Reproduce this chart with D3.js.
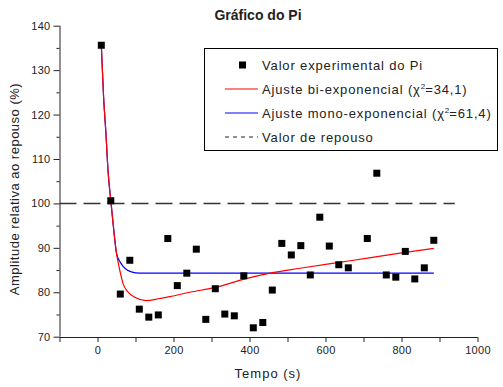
<!DOCTYPE html>
<html>
<head>
<meta charset="utf-8">
<script src="https://cdn.jsdelivr.net/npm/d3@7"></script>
<style>
  body { margin: 0; background: #fff; }
  svg { display: block; font-family: "Liberation Sans", Arial, sans-serif; }
  .axis path, .axis line { stroke: #222; }
  .axis text { fill: #222; font-size: 11px; letter-spacing: 0.3px; }
</style>
</head>
<body>
<svg id="chart" width="503" height="387"></svg>
<script>
// measured points (tempo s, amplitude %)
const pointTimes = [10, 35, 60, 85, 110, 135, 160, 185, 210, 235, 260, 285, 310, 335, 360, 385, 410, 435,
  460, 485, 510, 535, 560, 585, 610, 635, 660, 710, 735, 760, 785, 810, 835, 860, 885];
const pointValues = [135.6, 100.6, 79.6, 87.2, 76.2, 74.4, 74.9, 92.1, 81.5, 84.3, 89.7, 73.9, 80.8, 75.1, 74.7, 83.7, 72.0, 73.2,
  80.5, 91.0, 88.4, 90.5, 83.9, 96.9, 90.4, 86.2, 85.5, 92.1, 106.8, 83.9, 83.4, 89.2, 83.0, 85.5, 91.7];

// bi-exponential fit
const biTimes = [10, 16, 22, 28, 35, 41, 50, 54, 60, 67, 80, 98, 129, 164, 190, 243, 311, 388, 454, 533, 665, 796, 885];
const biValues = [135.6, 124, 116, 107, 100.6, 95.5, 88.8, 86.9, 84.4, 82.0, 80.1, 78.9, 78.1, 78.6, 79.0, 80.0, 81.1, 83.0, 84.3, 85.4, 87.1, 88.8, 89.9];

// mono-exponential fit
const monoTimes = [10, 16, 22, 28, 35, 41, 50, 59, 72, 89, 111, 150, 885];
const monoValues = [135.6, 124, 116, 107, 100.6, 95.5, 88.8, 86.9, 85.4, 84.6, 84.3, 84.3, 84.3];

const restValue = 100;
const restRange = [-100, 940];

const xTicks = [0, 200, 400, 600, 800, 1000];
const yTicks = [70, 80, 90, 100, 110, 120, 130, 140];

const svg = d3.select("#chart");

const x = d3.scaleLinear().domain([-100, 1000]).range([59.5, 477.5]);
const y = d3.scaleLinear().domain([70, 140]).range([336.7, 25.7]);

// title
svg.append("text")
  .attr("x", 258).attr("y", 20)
  .attr("text-anchor", "middle")
  .style("font-weight", "bold").style("font-size", "14px").style("fill", "#222")
  .text("Gráfico do Pi");

// axes (major + minor ticks)
const xAxis = svg.append("g").attr("class", "axis").attr("transform", "translate(0,337)");
xAxis.call(d3.axisBottom(x).tickValues(d3.range(-100, 1001, 100)).tickSize(5).tickPadding(4)
  .tickFormat(d => xTicks.includes(d) ? d : ""));
xAxis.select(".domain").attr("d", `M${x(-100)},0.5H${x(1000)}`);

const yAxis = svg.append("g").attr("class", "axis").attr("transform", "translate(59.5,0)");
yAxis.call(d3.axisLeft(y).tickValues(d3.range(70, 141, 5)).tickSize(6).tickPadding(3)
  .tickFormat(d => yTicks.includes(d) ? d : ""));
yAxis.selectAll(".tick").filter(d => !yTicks.includes(d)).select("line").attr("x2", -3);
yAxis.select(".domain").attr("d", `M0.5,${y(140)}V${y(70)}`);

// axis titles
svg.append("text")
  .attr("x", 268).attr("y", 378)
  .attr("text-anchor", "middle")
  .style("font-size", "13px").style("letter-spacing", "1px").style("fill", "#222")
  .text("Tempo (s)");

svg.append("text")
  .attr("transform", "translate(19,189) rotate(-90)")
  .attr("text-anchor", "middle")
  .style("font-size", "13px").style("letter-spacing", "0.5px").style("fill", "#222")
  .text("Amplitude relativa ao repouso (%)");

// resting value
svg.append("line")
  .attr("x1", x(restRange[0])).attr("x2", x(restRange[1]))
  .attr("y1", y(restValue)).attr("y2", y(restValue))
  .attr("stroke", "#333").attr("stroke-width", 1.5).attr("stroke-dasharray", "17,7");

// fitted curves
const line = d3.line().x(d => x(d[0])).y(d => y(d[1])).curve(d3.curveMonotoneX);
svg.append("path")
  .datum(monoTimes.map((t, i) => [t, monoValues[i]]))
  .attr("d", line).attr("fill", "none").attr("stroke", "#0000ff").attr("stroke-width", 1.2);
svg.append("path")
  .datum(biTimes.map((t, i) => [t, biValues[i]]))
  .attr("d", line).attr("fill", "none").attr("stroke", "#ff0000").attr("stroke-width", 1.2);

// experimental points
svg.selectAll(".pt")
  .data(pointTimes.map((t, i) => [t, pointValues[i]]))
  .enter().append("rect")
  .attr("class", "pt")
  .attr("x", d => x(d[0]) - 3.5).attr("y", d => y(d[1]) - 3.5)
  .attr("width", 7).attr("height", 7)
  .attr("fill", "#000");

// legend
const legend = svg.append("g");
legend.append("rect")
  .attr("x", 204.5).attr("y", 48.5).attr("width", 293).attr("height", 102)
  .attr("fill", "#fff").attr("stroke", "#000").attr("stroke-width", 1);

const rows = [65, 89, 113, 137];
legend.append("rect").attr("x", 239).attr("y", rows[0] - 3.5).attr("width", 7).attr("height", 7).attr("fill", "#000");
legend.append("line").attr("x1", 225).attr("x2", 258).attr("y1", rows[1]).attr("y2", rows[1]).attr("stroke", "#ff0000");
legend.append("line").attr("x1", 225).attr("x2", 258).attr("y1", rows[2]).attr("y2", rows[2]).attr("stroke", "#0000ff");
legend.append("line").attr("x1", 225).attr("x2", 258).attr("y1", rows[3]).attr("y2", rows[3])
  .attr("stroke", "#222").attr("stroke-dasharray", "4,4");

function legendText(row, parts) {
  const t = legend.append("text")
    .attr("x", 262).attr("y", row + 5)
    .style("font-size", "13px").style("letter-spacing", "0.85px").style("fill", "#222");
  parts.forEach(p => {
    const s = t.append("tspan").text(p.text);
    if (p.sup) s.attr("dy", -5).style("font-size", "8px").style("letter-spacing", "0px");
    if (p.down) s.attr("dy", 5);
  });
}
legendText(rows[0], [{ text: "Valor experimental do Pi" }]);
legendText(rows[1], [{ text: "Ajuste bi-exponencial (χ" }, { text: "2", sup: true }, { text: "=34,1)", down: true }]);
legendText(rows[2], [{ text: "Ajuste mono-exponencial (χ" }, { text: "2", sup: true }, { text: "=61,4)", down: true }]);
legendText(rows[3], [{ text: "Valor de repouso" }]);
</script>
</body>
</html>
